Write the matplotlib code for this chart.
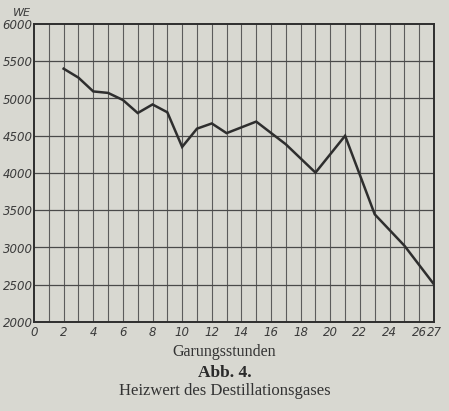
import numpy as np
import matplotlib
matplotlib.use("Agg")
import matplotlib.pyplot as plt

# Heizwert des Destillationsgases vs. Gaerungsstunden
stunden = [2, 3, 4, 5, 6, 7, 8, 9, 10, 11, 12, 13, 15, 17, 19, 21, 23, 25, 27]
heizwert = [5400, 5280, 5095, 5075, 4980, 4805, 4920, 4815, 4350, 4595, 4665, 4535,
            4690, 4385, 4005, 4500, 3445, 3025, 2505]

xtick_pos = [0, 2, 4, 6, 8, 10, 12, 14, 16, 18, 20, 22, 24, 26, 27]
ytick_pos = [2000, 2500, 3000, 3500, 4000, 4500, 5000, 5500, 6000]

paper = "#d8d8d1"
ink = "#2e2e2e"
tickfont = dict(family="DejaVu Sans", style="italic", size=8.5, color="#3a3a3a")

fig = plt.figure(figsize=(4.49, 4.11), dpi=100, facecolor=paper)
ax = fig.add_axes([34/449, 89/411, 400/449, 298/411], facecolor=paper)

# grid every hour / every 500 WE
for xv in range(1, 27):
    ax.axvline(xv, color="#5c5c5c", lw=0.8, zorder=1)
for yv in ytick_pos[1:-1]:
    ax.axhline(yv, color="#4a4a4a", lw=0.9, zorder=1)

ax.plot(stunden, heizwert, color=ink, lw=1.8, zorder=3, solid_joinstyle="miter")

ax.set_xlim(0, 27)
ax.set_ylim(2000, 6000)
for s in ax.spines.values():
    s.set_color(ink)
    s.set_linewidth(1.4)

ax.set_xticks(xtick_pos)
ax.set_xticklabels([str(v) for v in xtick_pos], fontdict=tickfont)
ax.set_yticks(ytick_pos)
ax.set_yticklabels([str(v) for v in ytick_pos], fontdict=tickfont)
ax.tick_params(length=0, pad=3)
ax.tick_params(axis="y", pad=1)

fig.text(22/449, 1 - 13/411, "WE", ha="center", va="center", fontsize=8,
         style="italic", family="DejaVu Sans", color="#3a3a3a")

fig.text(0.5, 1 - 352/411, "Garungsstunden", ha="center", va="center",
         fontsize=11.5, family="Liberation Serif", color="#333333")
fig.text(0.5, 1 - 373/411, "Abb. 4.", ha="center", va="center",
         fontsize=12.5, weight="bold", family="Liberation Serif", color="#2a2a2a")
fig.text(0.5, 1 - 391/411, "Heizwert des Destillationsgases", ha="center", va="center",
         fontsize=12, family="Liberation Serif", color="#333333")

fig.savefig("out.png", dpi=100, facecolor=paper)
